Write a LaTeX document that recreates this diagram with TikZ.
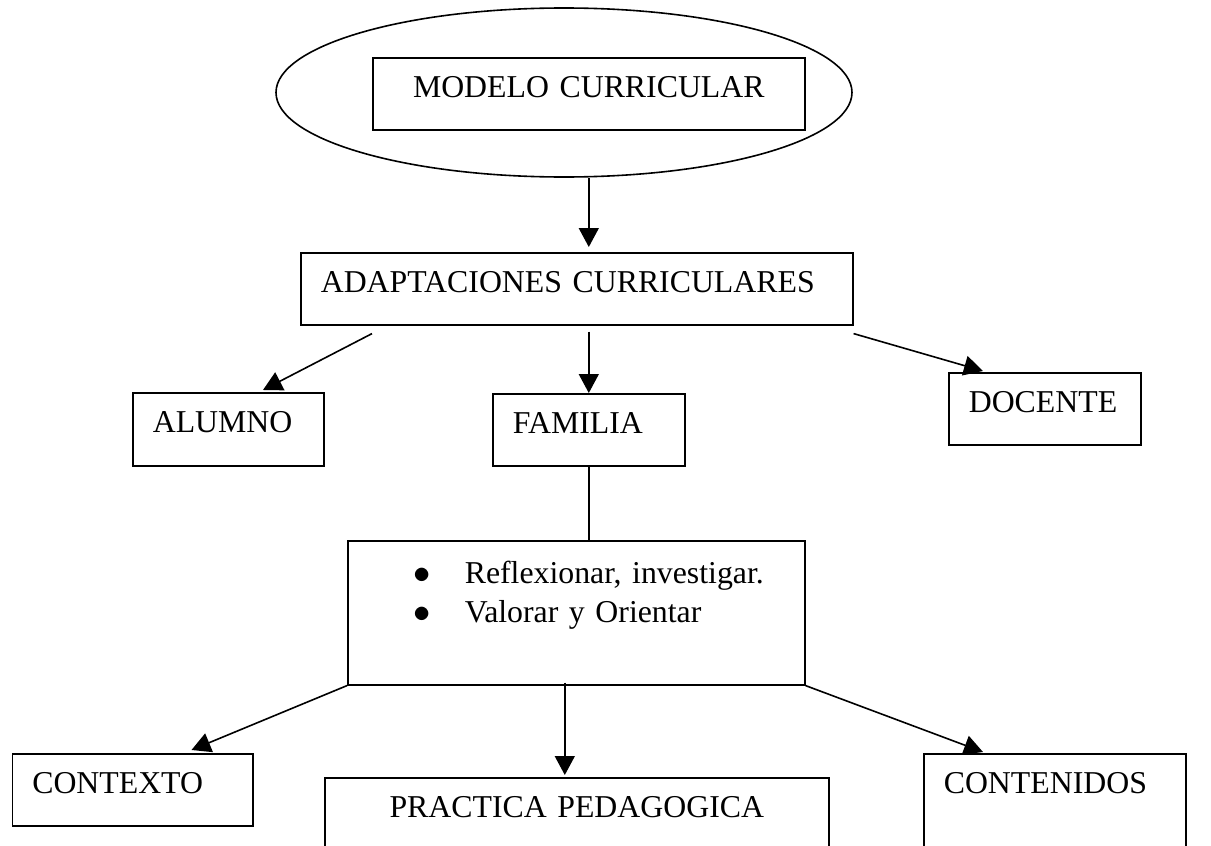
\documentclass[tikz,border=0pt]{standalone}
\usepackage{fontspec}
\setmainfont{Liberation Serif}
\usetikzlibrary{shapes.geometric,arrows.meta,calc}
\tikzset{
  caja/.style={draw, line width=0.8pt, anchor=north west, inner xsep=10pt, inner ysep=0pt, text height=20pt, align=left},
  flecha/.style={line width=0.8pt, -{Triangle[width=10pt,length=9.5pt]}},
  linea/.style={line width=0.8pt}
}
\newcommand{\punto}{\hspace*{33pt}\makebox[25.5pt][l]{\fontsize{17.5}{17.5}\selectfont$\bullet$}}

\begin{document}
\begin{tikzpicture}[x=0.5pt,y=-0.5pt,font=\fontsize{15.9}{19.5}\selectfont]
\useasboundingbox (0,0) rectangle (1211,846);
\clip (0,0) rectangle (1211,846);
\node[draw, ellipse, line width=0.8pt, minimum width=288pt, minimum height=84.5pt, inner sep=0pt] (elipse) at (564,92.5) {};
\node[caja, align=center, text width=196pt, text depth=16pt] (modelo) at (372,57) {MODELO CURRICULAR};
\node[caja, text width=256pt, text depth=16pt] (adapt) at (300,252) {ADAPTACIONES CURRICULARES};
\node[caja, text width=75.5pt, text depth=16.5pt] (alumno) at (132,392) {ALUMNO};
\node[caja, text width=76pt, text depth=16pt] (familia) at (492,393) {FAMILIA};
\node[caja, text width=76pt, text depth=16pt] (docente) at (948,372) {DOCENTE};
\node[caja, inner xsep=0pt, text width=228.5pt, text height=21.5pt, text depth=50.5pt] (acciones) at (347,540) {\punto Reflexionar, investigar.\\\punto Valorar y Orientar};
\node[caja, text width=100.25pt, text depth=16pt] (contexto) at (11.5,753) {CONTEXTO};
\node[caja, align=center, text width=232pt, text depth=30pt] (practica) at (324,777) {PRACTICA PEDAGOGICA};
\node[caja, text width=111pt, text depth=40pt] (contenidos) at (923,753) {CONTENIDOS};
\draw[flecha] (modelo.south |- elipse.south) -- ($(modelo.south |- adapt.north)+(0,-5)$);
\draw[flecha] ($(adapt.south west)+(72,8)$) -- ($(alumno.north west)+(131,-2)$);
\draw[flecha] ($(familia.north |- adapt.south)+(0,6)$) -- (familia.north);
\draw[flecha] ($(adapt.south east)+(0,8)$) -- ($(docente.north west)+(35,-1)$);
\draw[linea] (familia.south) -- (familia.south |- acciones.north);
\draw[flecha] (acciones.south west) -- ($(contexto.north west)+(180,-3)$);
\draw[flecha] ($(acciones.south)+(-11.5,-3)$) -- ($(practica.north)+(-12,-2)$);
\draw[flecha] (acciones.south east) -- ($(contenidos.north west)+(60,-1)$);
\end{tikzpicture}
\end{document}
